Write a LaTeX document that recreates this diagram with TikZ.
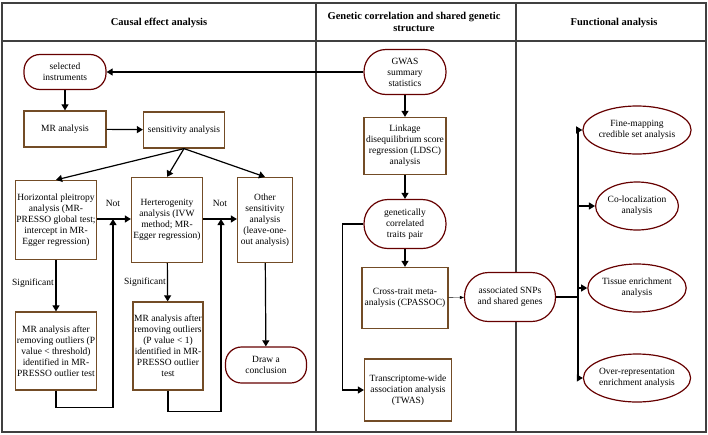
\documentclass[tikz,border=0pt]{standalone}
\usepackage{fontspec}
\setmainfont{Liberation Serif}
\usetikzlibrary{arrows.meta,positioning,calc,shapes.geometric}

\begin{document}
\begin{tikzpicture}[x=1pt,y=-1pt,>=Triangle,
	box/.style={draw=brown!60!black,line width=1.2pt,align=center,inner sep=0pt,font=\fontsize{9.5}{11}\selectfont},
	pill/.style={box,draw=red!40!black,rounded corners=16pt},
	oval/.style={box,draw=red!40!black,ellipse},
	link/.style={line width=1.2pt,->},
	frame/.style={line width=1.2pt,black!75}]
	\useasboundingbox (0,0) rectangle (708,434);
	% The frame and headers
	\draw[frame] (2,3) rectangle (706,432);
	\draw[frame] (2,41) -- (706,41);
	\draw[frame] (316,3) -- (316,432);
	\draw[frame] (516,3) -- (516,272) (516,321) -- (516,432);
	\node[font=\bfseries\fontsize{10.5}{12.5}\selectfont] (hcausal) at (159,23) {Causal effect analysis};
	\node[font=\bfseries\fontsize{10.5}{12.5}\selectfont,align=center] (hgenetic) at (414,22) {Genetic correlation and shared genetic\\structure};
	\node[font=\bfseries\fontsize{10.5}{12.5}\selectfont] (hfunc) at (614,23) {Functional analysis};

	% Causal effect analysis
	\node[pill,minimum width=82,minimum height=35] (instr) at (65,72) {selected\\instruments};
	\node[box,minimum width=82,minimum height=36] (mr) at (65,129) {MR analysis};
	\node[box,minimum width=81,minimum height=36] (sens) at (184,130) {sensitivity analysis};
	\node[box,minimum width=81,minimum height=79] (pleio) at (56,220) {Horizontal pleitropy\\analysis (MR-\\PRESSO global test;\\intercept in MR-\\Egger regression)};
	\node[box,minimum width=71,minimum height=85] (hetero) at (167,220) {Herterogenity\\analysis (IVW\\method; MR-\\Egger regression)};
	\node[box,minimum width=55,minimum height=85] (other) at (265,220) {Other\\sensitivity\\analysis\\(leave-one-\\out analysis)};
	\node[box,minimum width=81,minimum height=78] (mrleft) at (56,351) {MR analysis after\\removing outliers (P\\value < threshold)\\identified in MR-\\PRESSO outlier test};
	\node[box,minimum width=70,minimum height=88] (mrmid) at (168,346) {MR analysis after\\removing outliers\\(P value < 1)\\identified in MR-\\PRESSO outlier\\test};
	\node[pill,minimum width=81,minimum height=36] (concl) at (266,365) {Draw a\\conclusion};
	\node[font=\fontsize{9.5}{11}\selectfont] (not1) at (113,203) {Not};
	\node[font=\fontsize{9.5}{11}\selectfont] (not2) at (220,203) {Not};
	\node[font=\fontsize{9.5}{11}\selectfont,anchor=east,inner sep=1pt] (sig1) at (55,283) {Significant};
	\node[font=\fontsize{9.5}{11}\selectfont,anchor=east,inner sep=1pt] (sig2) at (167,282) {Significant};
	\coordinate (up1) at (113,219);
	\coordinate (up2) at (221,219);

	\draw[link] (instr) -- (mr);
	\draw[link] (mr) -- (sens);
	\draw[link] (sens.south) -- (pleio.north);
	\draw[link] (sens.south) -- (hetero.north);
	\draw[link] (sens.south) -- (other.north);
	\draw[link] (pleio.east |- up1) -- (hetero.west |- up1);
	\draw[link] (hetero.east |- up1) -- (other.west |- up1);
	\draw[link] (pleio) -- (mrleft);
	\draw[link] (hetero) -- (mrmid);
	\draw[link] (other) -- (concl);
	\draw[link] (mrleft.south) -- ++(0,17) -| (up1);
	\draw[link] (mrmid.south) -- ++(0,21) -| (up2);

	% Genetic correlation and shared genetic structure
	\node[pill,minimum width=82,minimum height=45,rounded corners=22pt] (gwas) at (405,72) {GWAS\\summary\\statistics};
	\node[box,minimum width=82,minimum height=57] (ldsc) at (405,146) {Linkage\\disequilibrium score\\regression (LDSC)\\analysis};
	\node[pill,minimum width=82,minimum height=49,rounded corners=24pt] (pair) at (405,224) {genetically\\correlated\\traits pair};
	\node[box,minimum width=86,minimum height=61] (cpassoc) at (405,298) {Cross-trait meta-\\analysis (CPASSOC)};
	\node[box,minimum width=87,minimum height=62] (twas) at (408,390) {Transcriptome-wide\\association analysis\\(TWAS)};
	\node[pill,minimum width=91,minimum height=49,rounded corners=24pt] (snps) at (510,297) {associated SNPs\\and shared genes};

	\draw[link] (gwas) -- (instr);
	\draw[link] (gwas) -- (ldsc);
	\draw[link] (ldsc) -- (pair);
	\draw[link] (pair) -- (cpassoc);
	\draw[link] (pair.west) -- ++(-21,0) |- (twas.west);
	\draw[->,>={Triangle[length=4pt,width=3pt]}] (cpassoc) -- (snps);

	% Functional analysis
	\node[oval,minimum width=82,minimum height=48] (fine) at (637,130) {Fine-mapping\\credible set analysis};
	\node[oval,minimum width=82,minimum height=48] (coloc) at (637,206) {Co-localization\\analysis};
	\node[oval,minimum width=82,minimum height=48] (tissue) at (637,288) {Tissue enrichment\\analysis};
	\node[oval,minimum width=82,minimum height=48] (ora) at (637,378) {Over-representation\\enrichment analysis};
	\coordinate (split) at (578,297);
	\draw[line width=1.2pt] (snps.east) -- (split);
	\draw[line width=1.2pt] (split |- fine) -- (split |- ora);
	\foreach \n in {fine,coloc,tissue,ora}
		\draw[link] (split |- \n) -- (\n.west);
\end{tikzpicture}
\end{document}
